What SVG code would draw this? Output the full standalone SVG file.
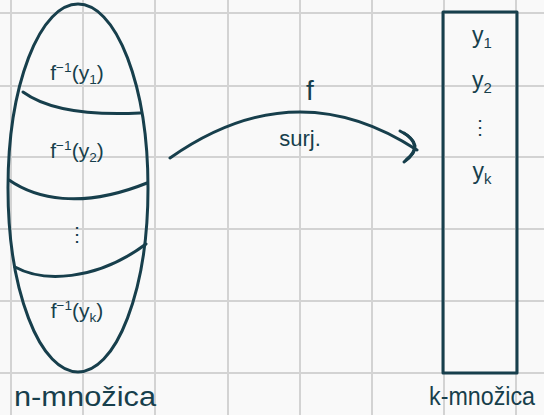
<svg xmlns="http://www.w3.org/2000/svg" width="544" height="415" viewBox="0 0 544 415">
<style>
.grid line{stroke:#d3d3d3;stroke-width:2}
.ink{fill:none;stroke:#173f4c;stroke-width:3;stroke-linecap:round;stroke-linejoin:round}
.t{font-family:"Liberation Sans",Arial,sans-serif;fill:#173f4c;text-anchor:middle}
.s{font-size:65%}
</style>
<rect width="544" height="415" fill="#f9f9f9"/>
<g class="grid">
<line x1="11" y1="0" x2="11" y2="415"/><line x1="83" y1="0" x2="83" y2="415"/><line x1="155" y1="0" x2="155" y2="415"/><line x1="228" y1="0" x2="228" y2="415"/><line x1="300" y1="0" x2="300" y2="415"/><line x1="372" y1="0" x2="372" y2="415"/><line x1="444" y1="0" x2="444" y2="415"/><line x1="516" y1="0" x2="516" y2="415"/>
<line x1="0" y1="13" x2="544" y2="13"/><line x1="0" y1="86" x2="544" y2="86"/><line x1="0" y1="157" x2="544" y2="157"/><line x1="0" y1="229" x2="544" y2="229"/><line x1="0" y1="301" x2="544" y2="301"/><line x1="0" y1="373" x2="544" y2="373"/>
</g>
<g id="n-set">
<ellipse class="ink" cx="78" cy="188" rx="70" ry="184"/>
<path class="ink" d="M23 92 C45 108 80 116 140 113"/>
<path class="ink" d="M9 180 C35 198 80 210 147 183"/>
<path class="ink" d="M15 267 C42 282 95 282 146 244"/>
<text class="t" x="77" y="80" font-size="21">f<tspan class="s" dy="-8">−1</tspan><tspan dy="8">(y</tspan><tspan class="s" dy="4">1</tspan><tspan dy="-4">)</tspan></text>
<text class="t" x="77" y="158" font-size="21">f<tspan class="s" dy="-8">−1</tspan><tspan dy="8">(y</tspan><tspan class="s" dy="4">2</tspan><tspan dy="-4">)</tspan></text>
<text class="t" x="77" y="241" font-size="20">⋮</text>
<text class="t" x="77" y="318" font-size="21">f<tspan class="s" dy="-8">−1</tspan><tspan dy="8">(y</tspan><tspan class="s" dy="4">k</tspan><tspan dy="-4">)</tspan></text>
<text class="t" x="85" y="406" font-size="27" textLength="142" lengthAdjust="spacingAndGlyphs">n-množica</text>
</g>
<g id="k-set">
<rect class="ink" x="443" y="12" width="74" height="361"/>
<text class="t" x="482" y="43" font-size="23">y<tspan class="s" dy="5">1</tspan></text>
<text class="t" x="482" y="88" font-size="23">y<tspan class="s" dy="5">2</tspan></text>
<text class="t" x="480" y="134" font-size="20">⋮</text>
<text class="t" x="482" y="179" font-size="23">y<tspan class="s" dy="5">k</tspan></text>
<text class="t" x="482" y="405" font-size="25" textLength="106" lengthAdjust="spacingAndGlyphs">k-množica</text>
</g>
<g id="connectors">
<path class="ink" d="M170 158 Q295 70 417 150"/>
<path class="ink" d="M400 131 Q428 145 404 162"/>
<path class="ink" d="M404 133 Q424 146 406 160"/>
<text class="t" x="310" y="100" font-size="28">f</text>
<text class="t" x="300" y="146" font-size="22">surj.</text>
</g>
</svg>
